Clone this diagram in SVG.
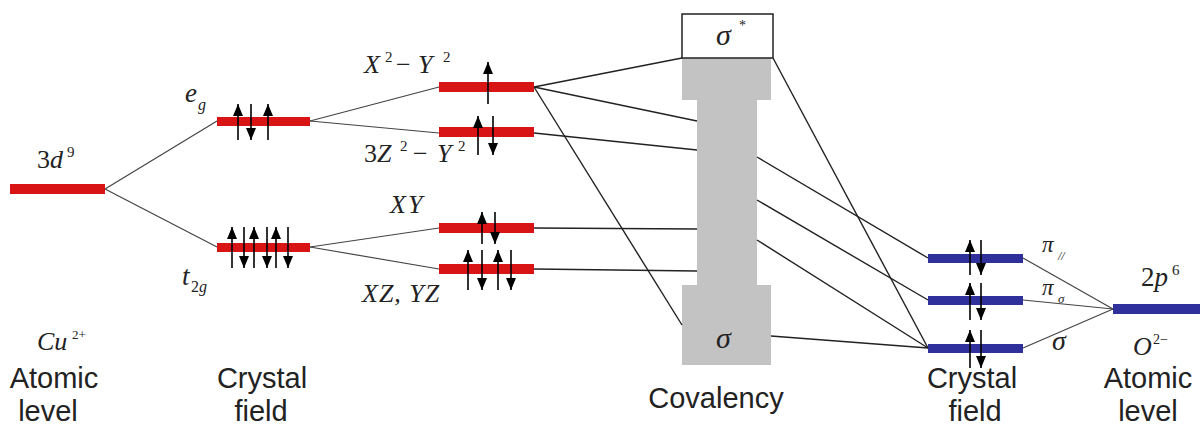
<svg xmlns="http://www.w3.org/2000/svg" width="1200" height="428" viewBox="0 0 1200 428">
<style>
.lab{font-family:"Liberation Sans",Arial,sans-serif;font-size:29px;fill:#222;text-anchor:middle}
.m{font-family:"Liberation Serif","Times New Roman",serif;font-style:italic;fill:#222}
.u{font-style:normal}
.red{fill:#d81414}
.blue{fill:#30309c}
.gray{fill:#c3c3c3}
.cn line{stroke:#222;stroke-width:1.4;fill:none}
.cn .thin{stroke:#444;stroke-width:1.2}
.ar line{stroke:#000;stroke-width:1.6}
</style>
<defs>
<marker id="ah" viewBox="0 0 12 10" refX="12" refY="5" markerWidth="13" markerHeight="10" markerUnits="userSpaceOnUse" orient="auto">
<path d="M0,0 L12,5 L0,10 z" fill="#000"/>
</marker>
</defs>
<rect width="1200" height="428" fill="#fff"/>

<g id="covalency">
<path class="gray" d="M682,58 H771 V100 H757 V285 H771 V365 H682 V285 H697 V100 H682 Z"/>
<rect x="682" y="14" width="91" height="44" fill="#fff" stroke="#222" stroke-width="1.5"/>
<text class="m" x="716" y="45" font-size="30">σ</text>
<text class="m u" x="739" y="30" font-size="14">*</text>
<text class="m" x="716" y="348" font-size="30">σ</text>
<text class="lab" x="716" y="408">Covalency</text>
</g>

<g class="cn" id="connectors">
<line class="thin" x1="105" y1="189" x2="217" y2="121"/>
<line class="thin" x1="105" y1="189" x2="217" y2="247"/>
<line class="thin" x1="310" y1="121" x2="439" y2="87"/>
<line class="thin" x1="310" y1="121" x2="439" y2="133"/>
<line class="thin" x1="310" y1="247" x2="439" y2="228"/>
<line class="thin" x1="310" y1="247" x2="439" y2="269"/>
<line x1="534" y1="87" x2="682" y2="58"/>
<line x1="534" y1="87" x2="697" y2="121"/>
<line x1="534" y1="87" x2="682" y2="325"/>
<line x1="534" y1="133" x2="697" y2="150"/>
<line x1="534" y1="228" x2="697" y2="229"/>
<line x1="534" y1="269" x2="697" y2="271"/>
<line x1="773" y1="58" x2="928" y2="348"/>
<line x1="757" y1="157" x2="928" y2="258"/>
<line x1="757" y1="200" x2="928" y2="300"/>
<line x1="757" y1="240" x2="928" y2="348"/>
<line x1="771" y1="336" x2="928" y2="348"/>
<line class="thin" x1="1023" y1="258" x2="1113" y2="309"/>
<line class="thin" x1="1023" y1="300" x2="1113" y2="309"/>
<line class="thin" x1="1023" y1="348" x2="1113" y2="309"/>
</g>

<g id="cu-3d">
<rect class="red" x="10" y="184" width="95" height="10"/>
<text class="m" x="37" y="168" font-size="26"><tspan class="u">3</tspan>d<tspan class="u" x="67" y="157" font-size="15">9</tspan></text>
<text class="m" x="37" y="350" font-size="26">Cu<tspan class="u" x="72" y="339" font-size="13">2+</tspan></text>
<text class="lab" x="54" y="388">Atomic</text>
<text class="lab" x="48" y="421">level</text>
</g>

<g id="eg">
<rect class="red" x="217" y="117" width="93" height="9"/>
<text class="m" x="185" y="102" font-size="27">e<tspan x="198" y="110" font-size="16">g</tspan></text>
<g class="ar">
<line x1="238" y1="140" x2="238" y2="104" marker-end="url(#ah)"/>
<line x1="251" y1="104" x2="251" y2="140" marker-end="url(#ah)"/>
<line x1="268" y1="140" x2="268" y2="104" marker-end="url(#ah)"/>
</g>
</g>

<g id="t2g">
<rect class="red" x="217" y="243" width="93" height="9"/>
<text class="m" x="182" y="285" font-size="27">t<tspan class="u" x="191" y="292" font-size="16">2</tspan><tspan x="199" y="292" font-size="16">g</tspan></text>
<g class="ar">
<line x1="232" y1="268" x2="232" y2="227" marker-end="url(#ah)"/>
<line x1="244" y1="227" x2="244" y2="268" marker-end="url(#ah)"/>
<line x1="254" y1="268" x2="254" y2="227" marker-end="url(#ah)"/>
<line x1="267" y1="227" x2="267" y2="268" marker-end="url(#ah)"/>
<line x1="276" y1="268" x2="276" y2="227" marker-end="url(#ah)"/>
<line x1="288" y1="227" x2="288" y2="268" marker-end="url(#ah)"/>
</g>
</g>

<g id="x2y2">
<rect class="red" x="439" y="82" width="95" height="10"/>
<text class="m" x="364" y="73" font-size="26">X<tspan class="u" x="385" y="62" font-size="15">2</tspan><tspan class="u" x="396" y="73">−</tspan><tspan x="418" y="73">Y</tspan><tspan class="u" x="443" y="62" font-size="15">2</tspan></text>
<g class="ar">
<line x1="488" y1="104" x2="488" y2="62" marker-end="url(#ah)"/>
</g>
</g>

<g id="z2">
<rect class="red" x="439" y="127" width="95" height="10"/>
<text class="m" x="364" y="162" font-size="26"><tspan class="u">3</tspan><tspan x="377">Z</tspan><tspan class="u" x="400" y="151" font-size="15">2</tspan><tspan class="u" x="413" y="162">−</tspan><tspan x="437" y="162">Y</tspan><tspan class="u" x="458" y="151" font-size="15">2</tspan></text>
<g class="ar">
<line x1="478" y1="155" x2="478" y2="116" marker-end="url(#ah)"/>
<line x1="493" y1="116" x2="493" y2="155" marker-end="url(#ah)"/>
</g>
</g>

<g id="xy">
<rect class="red" x="439" y="223" width="95" height="10"/>
<text class="m" x="390" y="213" font-size="26" letter-spacing="2">XY</text>
<g class="ar">
<line x1="482" y1="244" x2="482" y2="212" marker-end="url(#ah)"/>
<line x1="495" y1="212" x2="495" y2="244" marker-end="url(#ah)"/>
</g>
</g>

<g id="xzyz">
<rect class="red" x="439" y="264" width="95" height="10"/>
<text class="m" x="362" y="302" font-size="26" letter-spacing="1">XZ, YZ</text>
<g class="ar">
<line x1="468" y1="290" x2="468" y2="250" marker-end="url(#ah)"/>
<line x1="482" y1="250" x2="482" y2="290" marker-end="url(#ah)"/>
<line x1="498" y1="290" x2="498" y2="250" marker-end="url(#ah)"/>
<line x1="511" y1="250" x2="511" y2="290" marker-end="url(#ah)"/>
</g>
</g>

<g id="o-pi-par">
<rect class="blue" x="928" y="254" width="95" height="9"/>
<text class="m" x="1042" y="252" font-size="23">π<tspan x="1058" y="260" font-size="12">//</tspan></text>
<g class="ar">
<line x1="970" y1="275" x2="970" y2="240" marker-end="url(#ah)"/>
<line x1="981" y1="240" x2="981" y2="275" marker-end="url(#ah)"/>
</g>
</g>

<g id="o-pi-sig">
<rect class="blue" x="928" y="296" width="95" height="9"/>
<text class="m" x="1042" y="295" font-size="23">π<tspan x="1058" y="303" font-size="13">σ</tspan></text>
<g class="ar">
<line x1="970" y1="320" x2="970" y2="283" marker-end="url(#ah)"/>
<line x1="981" y1="283" x2="981" y2="320" marker-end="url(#ah)"/>
</g>
</g>

<g id="o-sigma">
<rect class="blue" x="928" y="344" width="95" height="9"/>
<text class="m" x="1052" y="350" font-size="28">σ</text>
<g class="ar">
<line x1="970" y1="368" x2="970" y2="330" marker-end="url(#ah)"/>
<line x1="981" y1="330" x2="981" y2="368" marker-end="url(#ah)"/>
</g>
<text class="lab" x="972" y="388">Crystal</text>
<text class="lab" x="975" y="421">field</text>
</g>

<g id="cf-left">
<text class="lab" x="262" y="388">Crystal</text>
<text class="lab" x="261" y="421">field</text>
</g>

<g id="o-2p">
<rect class="blue" x="1113" y="304" width="87" height="10"/>
<text class="m" x="1141" y="286" font-size="27"><tspan class="u">2</tspan>p<tspan class="u" x="1172" y="275" font-size="15">6</tspan></text>
<text class="m" x="1133" y="355" font-size="26">O<tspan class="u" x="1153" y="344" font-size="14">2−</tspan></text>
<text class="lab" x="1148" y="388">Atomic</text>
<text class="lab" x="1148" y="421">level</text>
</g>
</svg>
